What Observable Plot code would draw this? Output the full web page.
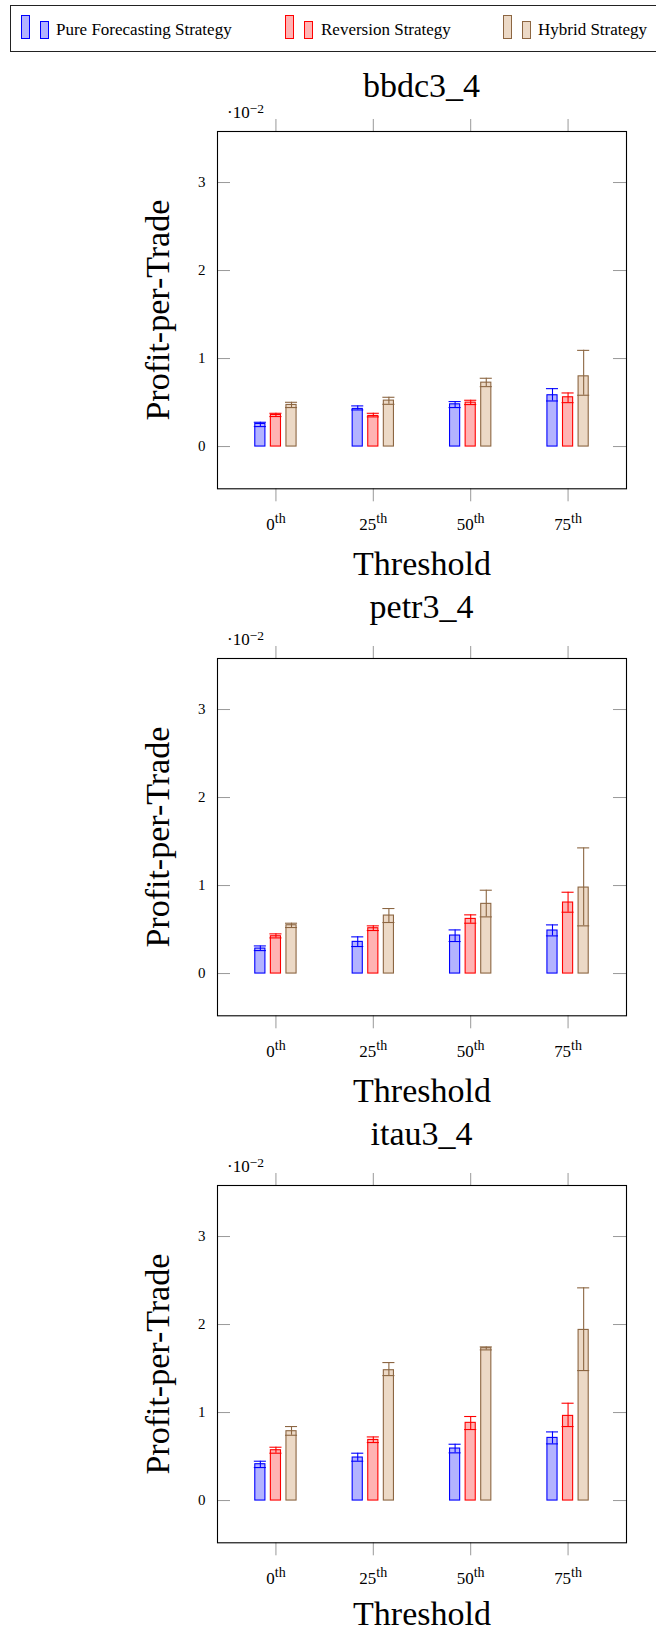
<!DOCTYPE html>
<html>
<head>
<meta charset="utf-8">
<script src="https://cdn.jsdelivr.net/npm/d3@7"></script>
<script src="https://cdn.jsdelivr.net/npm/@observablehq/plot@0.6"></script>
<style>
  body { margin: 0; background: #fff; font-family: "Liberation Serif", serif; color: #000; }
  #page { position: relative; width: 656px; height: 1633px; overflow: hidden; }
  .abs { position: absolute; }
  .title { position: absolute; left: 217px; width: 409px; text-align: center; font-size: 34px; line-height: 34px; white-space: nowrap; }
  .legtext { position: absolute; font-size: 17px; line-height: 17px; white-space: nowrap; }
  .sw { position: absolute; box-sizing: border-box; border: 1.4px solid; }
  svg g[aria-label="x-axis tick label"] text { font-size: 17px; }
</style>
</head>
<body>
<div id="page"></div>
<script>
// ---------- data (values in units of 10^-2) ----------
const thresholds = ["0th", "25th", "50th", "75th"];
const strategies = ["Pure Forecasting Strategy", "Reversion Strategy", "Hybrid Strategy"];
const panelNames = ["bbdc3_4", "petr3_4", "itau3_4"];
const yTicks = [0, 1, 2, 3];

const bbdc3Pure     = [0.257, 0.428, 0.480, 0.583];
const bbdc3PureLow  = [0.227, 0.416, 0.443, 0.518];
const bbdc3PureHigh = [0.276, 0.462, 0.511, 0.658];
const bbdc3Rev      = [0.359, 0.348, 0.499, 0.560];
const bbdc3RevLow   = [0.341, 0.337, 0.477, 0.499];
const bbdc3RevHigh  = [0.378, 0.378, 0.526, 0.609];
const bbdc3Hyb      = [0.473, 0.522, 0.726, 0.798];
const bbdc3HybLow   = [0.443, 0.480, 0.681, 0.583];
const bbdc3HybHigh  = [0.503, 0.560, 0.776, 1.093];

const petr3Pure     = [0.284, 0.360, 0.432, 0.489];
const petr3PureLow  = [0.261, 0.307, 0.364, 0.428];
const petr3PureHigh = [0.314, 0.417, 0.496, 0.553];
const petr3Rev      = [0.424, 0.515, 0.621, 0.807];
const petr3RevLow   = [0.405, 0.489, 0.572, 0.697];
const petr3RevHigh  = [0.451, 0.542, 0.667, 0.924];
const petr3Hyb      = [0.549, 0.659, 0.792, 0.977];
const petr3HybLow   = [0.523, 0.580, 0.644, 0.542];
const petr3HybHigh  = [0.572, 0.739, 0.947, 1.428];

const itau3Pure     = [0.413, 0.489, 0.591, 0.712];
const itau3PureLow  = [0.375, 0.447, 0.542, 0.644];
const itau3PureHigh = [0.447, 0.538, 0.640, 0.780];
const itau3Rev      = [0.572, 0.689, 0.883, 0.962];
const itau3RevLow   = [0.538, 0.659, 0.807, 0.841];
const itau3RevHigh  = [0.606, 0.723, 0.955, 1.106];
const itau3Hyb      = [0.788, 1.481, 1.731, 1.939];
const itau3HybLow   = [0.742, 1.420, 1.712, 1.477];
const itau3HybHigh  = [0.841, 1.568, 1.746, 2.417];

// ---------- styles ----------
const strokeColors = ["#0000ff", "#ff0000", "#8c6642"];
const fillColors = ["#b3b3ff", "#ffb3b3", "#ecd9c6"];
const seriesOffset = [-0.16, 0, 0.16];
const barWidth = 0.104;
const capHalf = 0.062;
const FONT = '"Liberation Serif", serif';

const panelSeries = [
  [[bbdc3Pure, bbdc3PureLow, bbdc3PureHigh], [bbdc3Rev, bbdc3RevLow, bbdc3RevHigh], [bbdc3Hyb, bbdc3HybLow, bbdc3HybHigh]],
  [[petr3Pure, petr3PureLow, petr3PureHigh], [petr3Rev, petr3RevLow, petr3RevHigh], [petr3Hyb, petr3HybLow, petr3HybHigh]],
  [[itau3Pure, itau3PureLow, itau3PureHigh], [itau3Rev, itau3RevLow, itau3RevHigh], [itau3Hyb, itau3HybLow, itau3HybHigh]]
];

const page = document.getElementById("page");

// ---------- legend ----------
const legendBox = document.createElement("div");
legendBox.className = "abs";
Object.assign(legendBox.style, {left: "10px", top: "5px", width: "700px", height: "47px", boxSizing: "border-box", border: "1.2px solid #222"});
page.appendChild(legendBox);
const legendSwatchX = [21, 285, 503];
const legendTextX = [56, 321, 538];
strategies.forEach((name, s) => {
  const a = document.createElement("div");
  a.className = "sw";
  Object.assign(a.style, {left: legendSwatchX[s] + "px", top: "15px", width: "9px", height: "24px", borderColor: strokeColors[s], background: fillColors[s]});
  page.appendChild(a);
  const b = document.createElement("div");
  b.className = "sw";
  Object.assign(b.style, {left: (legendSwatchX[s] + 19) + "px", top: "20.5px", width: "9px", height: "18.5px", borderColor: strokeColors[s], background: fillColors[s]});
  page.appendChild(b);
  const t = document.createElement("div");
  t.className = "legtext";
  t.textContent = name;
  Object.assign(t.style, {left: legendTextX[s] + "px", top: (35 - 14.2) + "px"});
  page.appendChild(t);
});

// ---------- panels ----------
const frameTops = [131, 658.3, 1185.3];
const titleBaselines = [97, 618, 1145];
const thresholdDy = [86, 86, 82.5];
const mTop = 30, mBottom = 95, frameH = 357.3;
const frameW = 656 - 217 - 30;

panelNames.forEach((pname, p) => {
  const title = document.createElement("div");
  title.className = "title";
  title.textContent = pname;
  title.style.top = (titleBaselines[p] - 28.5) + "px";
  page.appendChild(title);

  const rows = [];
  panelSeries[p].forEach(([vals, lows, highs], s) => {
    vals.forEach((v, i) => rows.push({i, s, cat: thresholds[i], strategy: strategies[s], value: v, low: lows[i], high: highs[i]}));
  });

  const marks = [
    Plot.ruleY(yTicks, {y: d => d, stroke: "#999", strokeWidth: 1, insetRight: frameW - 13}),
    Plot.ruleY(yTicks, {y: d => d, stroke: "#999", strokeWidth: 1, insetLeft: frameW - 13}),
    Plot.axisY({ticks: yTicks, tickSize: 0, tickPadding: 12, label: null, fontSize: 15, tickFormat: d => String(d)}),
    Plot.axisX({anchor: "bottom", ticks: [0, 1, 2, 3], tickSize: 13, tickPadding: 16, stroke: "#999", fill: "black", label: null, fontSize: 17, tickFormat: i => thresholds[i]}),
    Plot.axisX({anchor: "top", ticks: [0, 1, 2, 3], tickSize: 13, stroke: "#999", label: null, tickFormat: () => ""}),
    Plot.text(["Threshold"], {frameAnchor: "bottom", dy: thresholdDy[p], lineAnchor: "bottom", textAnchor: "middle", fontSize: 34, fill: "black"}),
    Plot.text(["Profit-per-Trade"], {frameAnchor: "left", dx: -49, lineAnchor: "bottom", textAnchor: "middle", rotate: -90, fontSize: 34, fill: "black"})
  ];
  strategies.forEach((name, s) => {
    const sub = rows.filter(r => r.s === s);
    const cx = d => d.i + seriesOffset[d.s];
    marks.push(Plot.rect(sub, {x1: d => cx(d) - barWidth / 2, x2: d => cx(d) + barWidth / 2, y1: 0, y2: "value", fill: fillColors[s], stroke: strokeColors[s], strokeWidth: 1.1}));
    marks.push(Plot.ruleX(sub, {x: cx, y1: "low", y2: "high", stroke: strokeColors[s], strokeWidth: 1.1}));
    marks.push(Plot.ruleY(sub, {y: "high", x1: d => cx(d) - capHalf, x2: d => cx(d) + capHalf, stroke: strokeColors[s], strokeWidth: 1.1}));
    marks.push(Plot.ruleY(sub, {y: "low", x1: d => cx(d) - capHalf, x2: d => cx(d) + capHalf, stroke: strokeColors[s], strokeWidth: 1.1}));
  });
  marks.push(Plot.frame({stroke: "black", strokeWidth: 1.1}));

  const chart = Plot.plot({
    width: 656,
    height: mTop + frameH + mBottom,
    marginLeft: 217, marginRight: 30, marginTop: mTop, marginBottom: mBottom,
    style: {background: "transparent", fontFamily: FONT, fontSize: "15px", color: "black", overflow: "visible"},
    x: {type: "linear", domain: [-0.6, 3.6]},
    y: {type: "linear", domain: [-0.48, 3.58]},
    marks
  });

  // superscript "th" on threshold tick labels
  d3.select(chart).selectAll('g[aria-label="x-axis tick label"] text').each(function () {
    const txt = this.textContent;
    if (!txt) return;
    const m = txt.match(/^(\d+)(.*)$/);
    if (!m) return;
    const sel = d3.select(this);
    sel.text(null);
    sel.append("tspan").style("font-size", "17px").text(m[1]);
    sel.append("tspan").attr("dy", "-7").style("font-size", "14px").text(m[2]);
  });

  // scale factor label
  const sf = d3.select(chart).append("text")
    .attr("x", 227).attr("y", mTop - 12.5)
    .attr("text-anchor", "start")
    .style("font-family", FONT).style("font-size", "17px").attr("fill", "black");
  sf.append("tspan").style("font-size", "17px").text("·10");
  sf.append("tspan").attr("dy", "-6").style("font-size", "13.5px").text("−2");

  const wrap = document.createElement("div");
  wrap.className = "abs";
  wrap.style.left = "0px";
  wrap.style.top = (frameTops[p] - mTop) + "px";
  wrap.appendChild(chart);
  page.appendChild(wrap);
});
</script>
</body>
</html>
